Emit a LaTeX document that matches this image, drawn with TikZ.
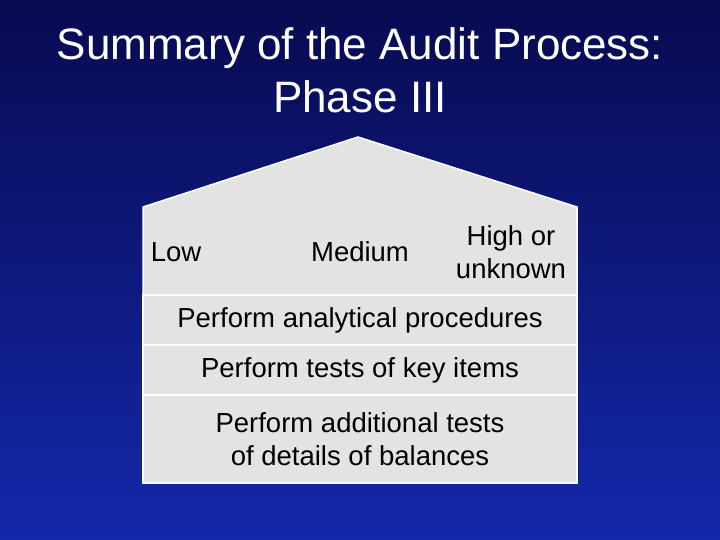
\documentclass[tikz,border=0pt]{standalone}
\usepackage{fontspec}
\setmainfont{Liberation Sans}
\begin{document}
\begin{tikzpicture}[x=1pt,y=-1pt,
  lbl/.style={font=\fontsize{27.5}{33}\selectfont,text=black,align=center,inner sep=0pt},
  ttl/.style={font=\fontsize{44}{53}\selectfont,text=white,align=center,inner sep=0pt},
  panel/.style={fill=gray!22,draw=white,line width=1.5pt}]
\shade[top color={rgb,255:red,8;green,10;blue,80},bottom color={rgb,255:red,20;green,40;blue,170}] (0,0) rectangle (720,540);
\useasboundingbox (0,0) rectangle (720,540);
\node[ttl] (title) at (360,70) {Summary of the Audit Process:\\Phase III};
\draw[panel] (143,207) -- (358,137) -- (577,207) -- (577,295) -- (143,295) -- cycle;
\draw[panel] (143,295) rectangle (577,345);
\draw[panel] (143,345) rectangle (577,395);
\draw[panel] (143,395) rectangle (577,483);
\node[lbl] (low) at (176,252) {Low};
\node[lbl] (med) at (360,252) {Medium};
\node[lbl] (high) at (511,252) {High or\\unknown};
\node[lbl] (r1) at (360,320) {Perform analytical procedures};
\node[lbl] (r2) at (360,370) {Perform tests of key items};
\node[lbl] (r3) at (360,439) {Perform additional tests\\of details of balances};
\end{tikzpicture}
\end{document}
